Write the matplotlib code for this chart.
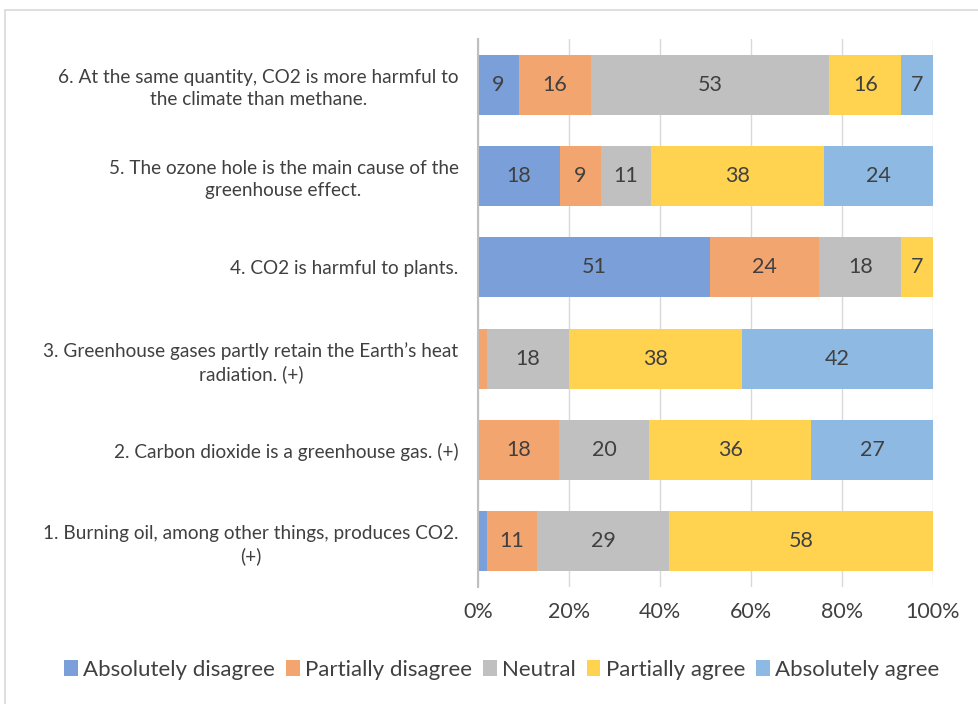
import numpy as np
import matplotlib.pyplot as plt
from matplotlib.patches import Rectangle, Patch

plt.rcParams['font.family'] = ['Lato', 'DejaVu Sans']

statements = [
    '1. Burning oil, among other things, produces CO2.\n(+)',
    '2. Carbon dioxide is a greenhouse gas. (+)',
    '3. Greenhouse gases partly retain the Earth\u2019s heat\nradiation. (+)',
    '4. CO2 is harmful to plants.',
    '5. The ozone hole is the main cause of the\ngreenhouse effect.',
    '6. At the same quantity, CO2 is more harmful to\nthe climate than methane.',
]
responses = ['Absolutely disagree', 'Partially disagree', 'Neutral',
             'Partially agree', 'Absolutely agree']

# counts per statement (rows 1..6), one list per response level
abs_disagree = [2, 0, 0, 51, 18, 9]
part_disagree = [11, 18, 2, 24, 9, 16]
neutral = [29, 20, 18, 18, 11, 53]
part_agree = [58, 36, 38, 7, 38, 16]
abs_agree = [0, 27, 42, 0, 24, 7]

colors = ['#7B9FD9', '#F2A56F', '#C0C0C0', '#FFD34F', '#8DB9E3']
text_col = '#404040'

series = np.array([abs_disagree, part_disagree, neutral, part_agree, abs_agree], dtype=float)
totals = series.sum(axis=0)
shares = series / totals

fig = plt.figure(figsize=(9.79, 7.04), dpi=100)
ax = fig.add_axes([478 / 979, 1 - 587 / 704, (933 - 478) / 979, (587 - 39) / 704])

y = np.arange(len(statements))
left = np.zeros(len(statements))
for k in range(len(responses)):
    ax.barh(y, shares[k], left=left, height=0.66, color=colors[k], zorder=2)
    for i in range(len(statements)):
        if series[k, i] >= 5:
            ax.text(left[i] + shares[k, i] / 2, y[i], f'{int(series[k, i])}',
                    ha='center', va='center', fontsize=15.5, color=text_col, zorder=3)
    left += shares[k]

ax.set_xlim(0, 1)
ax.set_ylim(-0.5, len(statements) - 0.5)
ax.set_xticks(np.linspace(0, 1, 6))
ax.set_xticklabels([f'{p}%' for p in range(0, 101, 20)])
ax.set_yticks(y)
ax.set_yticklabels(statements, multialignment='center', linespacing=1.35)
ax.tick_params(axis='both', length=0, colors=text_col, labelsize=13.7)
ax.tick_params(axis='y', pad=14)
ax.tick_params(axis='x', pad=11, labelsize=15.5)
ax.grid(axis='x', color='#D9D9D9', linewidth=1, zorder=0)
for side in ['top', 'right', 'bottom']:
    ax.spines[side].set_visible(False)
ax.spines['left'].set_color('#BFBFBF')
ax.spines['left'].set_linewidth(1.5)
ax.spines['left'].set_zorder(4)

handles = [Patch(facecolor=c, edgecolor='none') for c in colors]
fig.legend(handles, responses, loc='center', bbox_to_anchor=(502 / 979, 1 - 670 / 704),
           ncol=5, frameon=False, fontsize=16, handlelength=0.6, handleheight=0.7,
           handletextpad=0.25, columnspacing=0.5, labelcolor=text_col)

# chart area border
fig.patches.append(Rectangle((5 / 979, -0.02), 1.02, 1 - 10 / 704 + 0.02,
                             transform=fig.transFigure, fill=False,
                             edgecolor='#D9D9D9', linewidth=1.2))

fig.savefig('out.png', dpi=100)
